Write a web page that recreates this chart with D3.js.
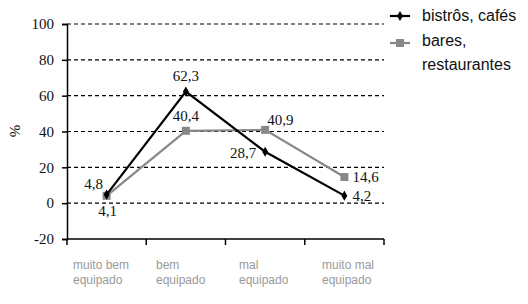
<!DOCTYPE html>
<html><head><meta charset="utf-8">
<script src="https://cdn.jsdelivr.net/npm/d3@7"></script>
<style>body{margin:0;background:#fff}</style>
</head><body>
<svg id="c" width="528" height="304"></svg>
<script>
const categories = ["muito bem equipado", "bem equipado", "mal equipado", "muito mal equipado"];
const categoryLines = [["muito bem","equipado"],["bem","equipado"],["mal","equipado"],["muito mal","equipado"]];
const bistros = [4.8, 62.3, 28.7, 4.2];
const bares = [4.1, 40.4, 40.9, 14.6];
const seriesNames = ["bistrôs, cafés", "bares, restaurantes"];
const yTicks = [-20, 0, 20, 40, 60, 80, 100];

(function(){
const svg = d3.select("#c");
const pLeft = 67, pRight = 384, pTop = 24, pBottom = 239;
const x = d3.scaleBand().domain(categories).range([pLeft, pRight]);
const y = d3.scaleLinear().domain([-20, 100]).range([pBottom, pTop]);
const serif = "'Liberation Serif', 'Times New Roman', serif";
const sans = "'Liberation Sans', Arial, sans-serif";

// gridlines
svg.append("g").selectAll("line").data(yTicks.filter(d => d > -20)).join("line")
  .attr("x1", pLeft).attr("x2", pRight)
  .attr("y1", d => y(d)).attr("y2", d => y(d))
  .attr("stroke", "#000").attr("stroke-width", 1.2).attr("stroke-dasharray", "4,3");

// y axis
const ya = svg.append("g").attr("transform", `translate(${pLeft},0)`)
  .call(d3.axisLeft(y).tickValues(yTicks).tickFormat(d => String(d)).tickSize(5).tickPadding(8));
ya.select(".domain").attr("stroke", "#000").attr("stroke-width", 1.5);
ya.selectAll(".tick line").attr("stroke", "#000").attr("stroke-width", 1.5);
ya.selectAll("text").attr("font-family", serif).attr("font-size", 15).attr("fill", "#111");

// x axis
svg.append("line").attr("x1", pLeft).attr("x2", pRight).attr("y1", pBottom).attr("y2", pBottom)
  .attr("stroke", "#000").attr("stroke-width", 1.5);
const bounds = categories.map(c => x(c)).concat([pRight]);
svg.append("g").selectAll("line").data(bounds).join("line")
  .attr("x1", d => d).attr("x2", d => d).attr("y1", pBottom).attr("y2", pBottom + 6)
  .attr("stroke", "#000").attr("stroke-width", 1.5);

// category labels
const lx = d3.scalePoint().domain(categories).range([101, 350]);
const cl = svg.append("g").selectAll("text").data(categories).join("text")
  .attr("font-family", sans).attr("font-size", 12).attr("fill", "#999")
  .attr("text-anchor", "start");
cl.each(function(c, i) {
  const t = d3.select(this);
  categoryLines[i].forEach((ln, j) => {
    t.append("tspan").attr("x", lx(c) - 28).attr("y", 269 + j * 15).text(ln);
  });
});

// y label
svg.append("text").attr("transform", "translate(20,131) rotate(-90)")
  .attr("text-anchor", "middle").attr("font-family", serif).attr("font-size", 15)
  .attr("fill", "#111").text("%");

const cx = c => x(c) + x.bandwidth() / 2;
const line = d3.line().x((d, i) => cx(categories[i])).y(d => y(d));

// bares (gray)
svg.append("path").datum(bares).attr("d", line).attr("fill", "none")
  .attr("stroke", "#888").attr("stroke-width", 2.2);
svg.append("g").selectAll("rect").data(bares).join("rect")
  .attr("x", (d, i) => cx(categories[i]) - 4).attr("y", d => y(d) - 4)
  .attr("width", 8).attr("height", 8).attr("fill", "#888");

// bistros (black)
svg.append("path").datum(bistros).attr("d", line).attr("fill", "none")
  .attr("stroke", "#000").attr("stroke-width", 2.2);
const diamond = d3.symbol().type(d3.symbolDiamond).size(30);
svg.append("g").selectAll("path").data(bistros).join("path")
  .attr("d", diamond)
  .attr("transform", (d, i) => `translate(${cx(categories[i])},${y(d)})`)
  .attr("fill", "#000");

// data labels
const fmt = v => String(v).replace(".", ",");
const bistroOff = [[-13, -6, "middle"], [0, -11, "middle"], [-9, 6, "end"], [8, 5, "start"]];
const baresOff = [[1, 20, "middle"], [0, -10, "middle"], [2, -5, "start"], [8, 5, "start"]];
function labels(data, offs) {
  svg.append("g").selectAll("text").data(data).join("text")
    .attr("x", (d, i) => cx(categories[i]) + offs[i][0])
    .attr("y", (d, i) => y(d) + offs[i][1])
    .attr("text-anchor", (d, i) => offs[i][2])
    .attr("font-family", serif).attr("font-size", 15).attr("fill", "#111")
    .text(fmt);
}
labels(bistros, bistroOff);
labels(bares, baresOff);

// legend
const lg = svg.append("g");
lg.append("line").attr("x1", 390).attr("x2", 410).attr("y1", 16).attr("y2", 16)
  .attr("stroke", "#000").attr("stroke-width", 2.2);
lg.append("path").attr("d", diamond).attr("transform", "translate(400,16)").attr("fill", "#000");
lg.append("text").attr("x", 422).attr("y", 21).attr("font-family", sans).attr("font-size", 16)
  .attr("fill", "#111").text(seriesNames[0]);
lg.append("line").attr("x1", 390).attr("x2", 410).attr("y1", 43).attr("y2", 43)
  .attr("stroke", "#888").attr("stroke-width", 2.2);
lg.append("rect").attr("x", 396).attr("y", 39).attr("width", 8).attr("height", 8).attr("fill", "#888");
const t2 = lg.append("text").attr("font-family", sans).attr("font-size", 16).attr("fill", "#111");
seriesNames[1].split(" ").forEach((w, j) => {
  t2.append("tspan").attr("x", 422).attr("y", 46 + j * 24).text(w);
});
})();
</script>
</body></html>
